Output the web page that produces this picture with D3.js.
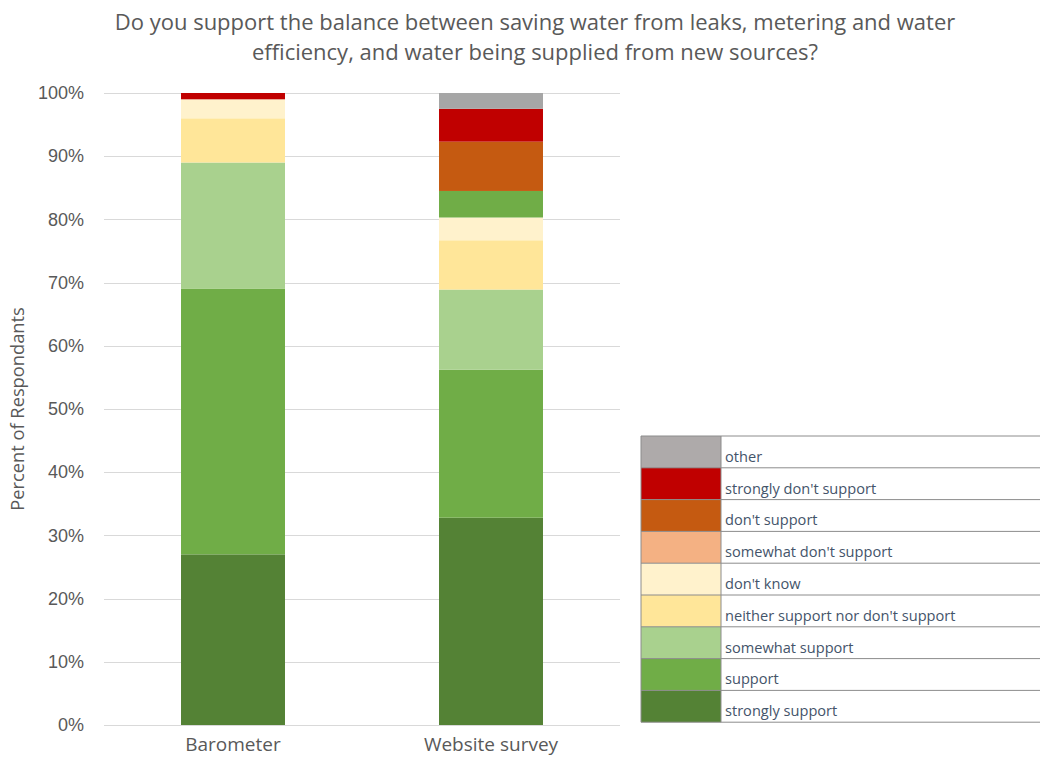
<!DOCTYPE html>
<html>
<head>
<meta charset="utf-8">
<script src="https://cdn.jsdelivr.net/npm/d3@7"></script>
<style>
  body { margin: 0; background: #fff; }
  svg { font-family: "Open Sans", sans-serif; }
</style>
</head>
<body>
<svg id="chart" width="1040" height="764"></svg>
<script>
// data
const categories = ['Barometer', 'Website survey'];
const seriesNames = ['strongly support', 'support', 'somewhat support',
  'neither support nor don\'t support', 'don\'t know', 'somewhat don\'t support',
  'don\'t support', 'strongly don\'t support', 'other'];
const barometer = [27, 42, 20, 7, 3, 0, 0, 1, 0];
const websiteSurvey = [32.8, 23.4, 12.7, 7.8, 3.6, 4.2, 7.8, 5.2, 2.5];
const yTicks = [0, 10, 20, 30, 40, 50, 60, 70, 80, 90, 100];

const colors = ['#548235', '#70AD47', '#A9D18E', '#FFE699', '#FFF2CC',
  '#F4B183', '#C55A11', '#C00000', '#A6A6A6'];
const legendColors = colors.slice();
legendColors[8] = '#AEAAAA';
// the original chart draws this one point in green
const pointColor = { 'Website survey|somewhat don\'t support': '#70AD47' };

const svg = d3.select('#chart');
const margin = { top: 93, left: 104, right: 420, bottom: 39 };
const width = 1040 - margin.left - margin.right;
const height = 764 - margin.top - margin.bottom;

const rows = categories.map((c, i) => {
  const vals = i === 0 ? barometer : websiteSurvey;
  const r = { category: c };
  seriesNames.forEach((s, j) => { r[s] = vals[j]; });
  return r;
});
const stacked = d3.stack().keys(seriesNames)(rows);

const x = d3.scaleBand().domain(categories).range([0, width])
  .paddingInner(0.597).paddingOuter(0.2985);
const y = d3.scaleLinear().domain([0, 100]).range([height, 0]);

const g = svg.append('g').attr('transform', `translate(${margin.left},${margin.top})`);

// gridlines
g.append('g').selectAll('line').data(yTicks).enter().append('line')
  .attr('x1', 0).attr('x2', width)
  .attr('y1', d => Math.round(y(d)) + 0.5).attr('y2', d => Math.round(y(d)) + 0.5)
  .attr('stroke', '#D9D9D9').attr('stroke-width', 1);

// y axis
const yAxis = g.append('g').call(d3.axisLeft(y).tickValues(yTicks)
  .tickFormat(d => d + '%').tickSize(0).tickPadding(20));
yAxis.select('.domain').remove();
yAxis.selectAll('text').attr('fill', '#595959').style('font-size', '18px');

// bars
g.append('g').selectAll('g').data(stacked).enter().append('g')
  .each(function (series, si) {
    d3.select(this).selectAll('rect').data(series).enter().append('rect')
      .attr('x', d => x(d.data.category))
      .attr('width', x.bandwidth())
      .attr('y', d => y(d[1]))
      .attr('height', d => y(d[0]) - y(d[1]))
      .attr('fill', d => pointColor[d.data.category + '|' + series.key] || colors[si]);
  });

// x axis labels
g.append('g').selectAll('text').data(categories).enter().append('text')
  .attr('x', d => x(d) + x.bandwidth() / 2)
  .attr('y', height + 26)
  .attr('text-anchor', 'middle')
  .attr('fill', '#595959').style('font-size', '19px')
  .text(d => d);

// y title
svg.append('text')
  .attr('transform', `translate(24,${margin.top + height / 2}) rotate(-90)`)
  .attr('text-anchor', 'middle')
  .attr('fill', '#595959').style('font-size', '18.3px')
  .text('Percent of Respondants');

// title
const title = svg.append('text').attr('text-anchor', 'middle')
  .attr('fill', '#595959').style('font-size', '22px');
title.append('tspan').attr('x', 535).attr('y', 30)
  .text('Do you support the balance between saving water from leaks, metering and water');
title.append('tspan').attr('x', 535).attr('y', 60)
  .text('efficiency, and water being supplied from new sources?');

// legend table
const legendTop = 436, rowH = 31.8, lx = 641;
const legendItems = seriesNames.map((s, i) => ({ name: s, color: legendColors[i] })).reverse();
const lg = svg.append('g');
const lrow = lg.selectAll('g').data(legendItems).enter().append('g')
  .attr('transform', (d, i) => `translate(${lx},${legendTop + i * rowH})`);
lrow.append('rect').attr('x', 0).attr('y', 0).attr('width', 80).attr('height', rowH)
  .attr('fill', d => d.color);
lrow.append('text').attr('x', 84).attr('y', rowH - 6)
  .attr('fill', '#44546A').style('font-size', '14.6px')
  .text(d => d.name);
lrow.append('line').attr('x1', 0).attr('x2', 400).attr('y1', 0).attr('y2', 0)
  .attr('stroke', '#8C8C8C').attr('stroke-width', 1);
lg.append('line').attr('x1', lx).attr('x2', lx + 400)
  .attr('y1', legendTop + 9 * rowH).attr('y2', legendTop + 9 * rowH)
  .attr('stroke', '#8C8C8C');
lg.append('line').attr('x1', lx).attr('x2', lx)
  .attr('y1', legendTop).attr('y2', legendTop + 9 * rowH).attr('stroke', '#8C8C8C');
lg.append('line').attr('x1', lx + 80).attr('x2', lx + 80)
  .attr('y1', legendTop).attr('y2', legendTop + 9 * rowH).attr('stroke', '#8C8C8C');
</script>
</body>
</html>
